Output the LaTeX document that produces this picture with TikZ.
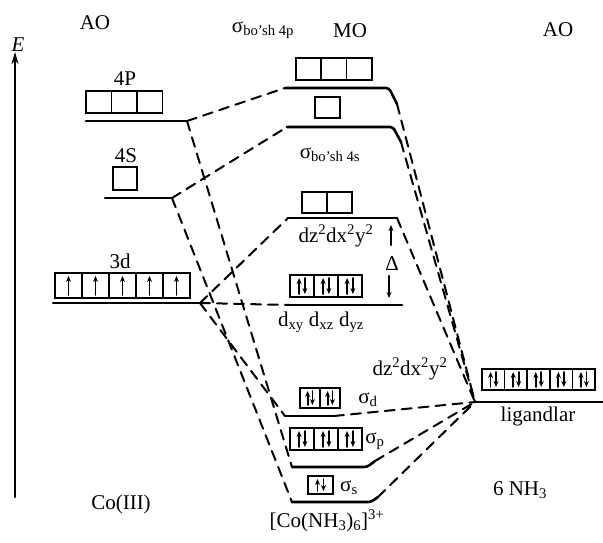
\documentclass[tikz,border=0pt]{standalone}
\usepackage{fontspec}
\setmainfont{Liberation Serif}
\usetikzlibrary{arrows.meta}

\begin{document}
\begin{tikzpicture}[x=1pt, y=-1pt, font=\fontsize{21}{24}\selectfont, line cap=round]
\tikzset{
  level/.style={line width=2.6pt, rounded corners=3pt},
  link/.style={line width=2pt, dash pattern=on 10pt off 7pt},
  orb/.style={line width=1.7pt},
  spin/.style={line width=1.8pt, -{Stealth[length=6pt,width=5pt]}},
  lbl/.style={inner sep=0pt}
}
\useasboundingbox (0,0) rectangle (603,542);

% energy axis
\draw[line width=2pt, -{Stealth[length=12pt,width=7pt]}] (15,497) -- (15,52);
\node[lbl, font=\fontsize{21}{24}\selectfont\itshape] (eax) at (18,45) {E};

% headers
\node[lbl] (aoL) at (95,23) {AO};
\node[lbl] (mo) at (350,31) {MO};
\node[lbl] (aoR) at (558,30) {AO};
\node[lbl] (tp) at (263,30) {σ\textsubscript{bo'sh 4p}};
\node[lbl] (ts) at (330,155) {σ\textsubscript{bo'sh 4s}};

% boxes: x/y/width/height/count/electrons (0 none, 1 up, 2 pair)
\foreach \x/\y/\w/\h/\n/\e in {86/91/25.5/22/3/0, 113/167/24/23/1/0, 55/273/27/25/5/1,
    296/58/25.3/22/3/0, 315/97/25/21/1/0, 302/192/25/21/2/0, 290/275/24/22/3/2,
    300/388/20/20/2/2, 290/428/24/22/3/2, 308/476/25/18/1/2, 482/369/22.6/21/5/2}{
  \foreach \i in {1,...,\n}{
    \draw[orb] ({\x+(\i-1)*\w},\y) rectangle +(\w,\h);
    \ifnum\e=1
      \draw[spin] ({\x+(\i-0.5)*\w},{\y+\h-3}) -- +(0,{-\h+6});
    \fi
    \ifnum\e=2
      \draw[spin] ({\x+(\i-0.62)*\w},{\y+\h-3}) -- +(0,{-\h+6});
      \draw[spin] ({\x+(\i-0.38)*\w},{\y+3}) -- +(0,{\h-6});
    \fi
  }
}

% AO levels of Co(III)
\node[lbl] (l4p) at (125,79) {4P};
\node[lbl] (l4s) at (126,156) {4S};
\node[lbl] (l3d) at (120,261) {3d};
\draw[level] (86,121) coordinate (p4L) -- (187,121) coordinate (p4R);
\draw[level] (105,198) coordinate (s4L) -- (172,198) coordinate (s4R);
\draw[level] (53,303) coordinate (d3L) -- (200,303) coordinate (d3R);

% MO levels
\draw[level] (285,88) coordinate (ps0) -- (389,88) -- (397,104) coordinate (ps1);
\draw[level] (287,127) coordinate (ss0) -- (393,127) -- (401,142) coordinate (ss1);
\draw[level] (288,218) coordinate (eg0) -- (397,218) coordinate (eg1);
\draw[level] (290,305) coordinate (tg0) -- (402,305) coordinate (tg1);
\draw[level] (285,416) coordinate (sd0) -- (334,416) coordinate (sd1);
\draw[level] (292,467) coordinate (sp0) -- (367,467) -- (375,461) coordinate (sp1);
\draw[level] (292,502) coordinate (so0) -- (371,502) -- (378,497) coordinate (so1);

% ligand level
\draw[level] (475,402) coordinate (lg0) -- (603,402) coordinate (lg1);

% splitting
\draw[spin, line width=2.4pt] (391,245) -- (391,225);
\node[lbl] (gap) at (392,264) {Δ};
\draw[spin, line width=2.4pt] (389,276) -- (389,298);

% MO labels
\node[lbl] (leg) at (336,236) {dz\textsuperscript{2}dx\textsuperscript{2}y\textsuperscript{2}};
\node[lbl] (ltg) at (321,322) {d\textsubscript{xy} d\textsubscript{xz} d\textsubscript{yz}};
\node[lbl] (lsd) at (368,400) {σ\textsubscript{d}};
\node[lbl] (lsp) at (375,441) {σ\textsubscript{p}};
\node[lbl] (lss) at (349,488) {σ\textsubscript{s}};
\node[lbl] (lsg) at (410,369) {dz\textsuperscript{2}dx\textsuperscript{2}y\textsuperscript{2}};

% bottom labels
\node[lbl] (co) at (121,504) {Co(III)};
\node[lbl] (cplx) at (327,521) {[Co(NH\textsubscript{3})\textsubscript{6}]\textsuperscript{3+}};
\node[lbl] (lig) at (538,416) {ligandlar};
\node[lbl] (nh) at (520,490) {6 NH\textsubscript{3}};

% metal links
\draw[link] (p4R) -- (ps0);
\draw[link] (p4R) -- (sp0);
\draw[link] (s4R) -- (ss0);
\draw[link] (s4R) -- (so0);
\draw[link] (d3R) -- (eg0);
\draw[link] (d3R) -- (tg0);
\draw[link] (d3R) -- (sd0);

% ligand links
\foreach \m in {ps1,ss1,eg1,sd1,sp1,so1}
  \draw[link] (\m) -- (lg0);
\end{tikzpicture}
\end{document}
